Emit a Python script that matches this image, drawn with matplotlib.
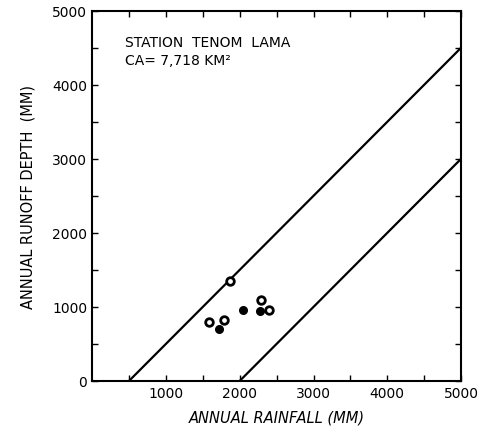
import matplotlib.pyplot as plt
import numpy as np

# observed annual values
rain_open = [1874, 2284, 2396, 1581, 1784]
runoff_open = [1352, 1096, 953, 791, 818]
rain_filled = [2045, 2280, 1716]
runoff_filled = [953, 939, 701]

# envelope lines (rainfall, runoff)
upper_x = [500, 5000]
upper_y = [0, 4500]
lower_x = [2000, 5000]
lower_y = [0, 3000]

fig = plt.figure(figsize=(4.9, 4.35), dpi=100)
ax = fig.add_axes([0.188, 0.122, 0.753, 0.851])

ax.plot(upper_x, upper_y, color="black", lw=1.6)
ax.plot(lower_x, lower_y, color="black", lw=1.6)
ax.scatter(rain_open, runoff_open, s=30, facecolor="white",
           edgecolor="black", linewidth=2.0, zorder=3)
ax.scatter(rain_filled, runoff_filled, s=30, color="black", zorder=3)

ax.set_xlim(0, 5000)
ax.set_ylim(0, 5000)
ax.set_xticks([1000, 2000, 3000, 4000, 5000])
ax.set_yticks(np.arange(0, 5001, 1000))
ax.set_xticks(np.arange(500, 5000, 1000), minor=True)
ax.set_yticks(np.arange(500, 5000, 1000), minor=True)
ax.tick_params(which="both", direction="in", top=True, right=True,
               length=4, width=1, labelsize=10)
for s in ax.spines.values():
    s.set_linewidth(1.5)

ax.set_xlabel("ANNUAL RAINFALL (MM)", fontsize=10.5, fontstyle="italic", labelpad=7)
ax.set_ylabel("ANNUAL RUNOFF DEPTH  (MM)", fontsize=10.5, labelpad=12)

ax.text(0.089, 0.916, "STATION  TENOM  LAMA", transform=ax.transAxes,
        fontsize=10, va="center")
ax.text(0.089, 0.866, "CA= 7,718 KM²", transform=ax.transAxes,
        fontsize=10, va="center")

fig.savefig("out.png", dpi=100)
